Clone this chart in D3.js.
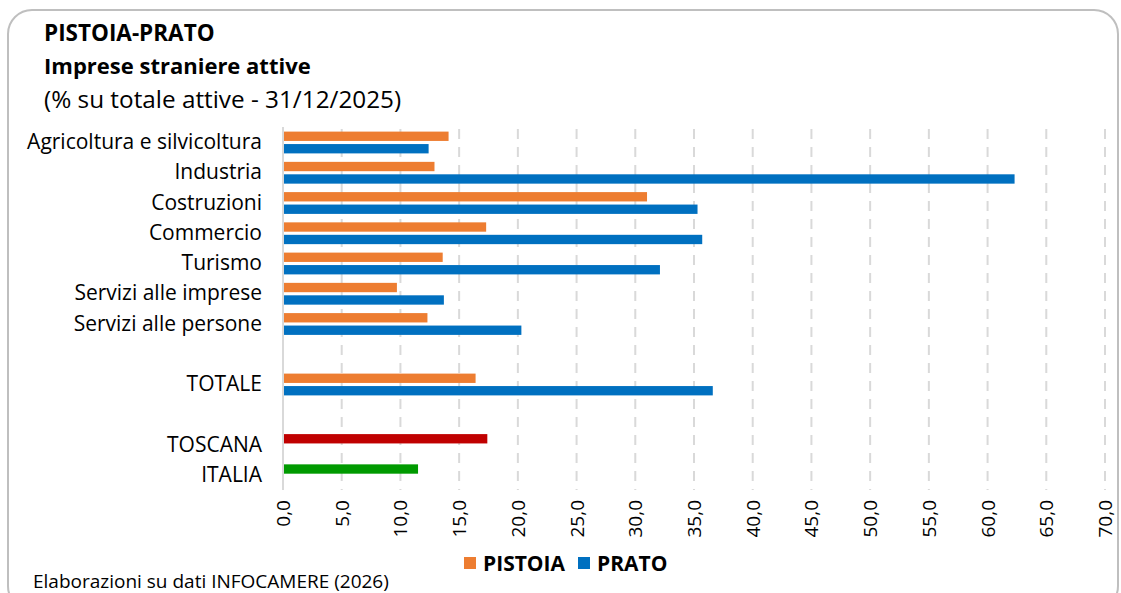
<!DOCTYPE html>
<html>
<head>
<meta charset="utf-8">
<script src="https://cdn.jsdelivr.net/npm/d3@7"></script>
<style>
  body { margin: 0; background: #fff; }
  svg text { font-family: "Open Sans", sans-serif; fill: #000; }
</style>
</head>
<body>
<svg id="chart" width="1121" height="593"></svg>
<script>
const categories = ["Agricoltura e silvicoltura", "Industria", "Costruzioni", "Commercio", "Turismo",
    "Servizi alle imprese", "Servizi alle persone", "", "TOTALE", "", "TOSCANA", "ITALIA"];
const seriesNames = ["PISTOIA", "PRATO"];
const pistoia = [14.1, 12.9, 31.0, 17.3, 13.6, 9.7, 12.3, null, 16.4, null, null, null];
const prato = [12.4, 62.3, 35.3, 35.7, 32.1, 13.7, 20.3, null, 36.6, null, null, null];
const refNames = ["TOSCANA", "ITALIA"];
const refValues = [17.4, 11.5];
const xTicks = d3.range(0, 70.1, 5);

const colors = {PISTOIA: "#ED7D31", PRATO: "#0070C0", TOSCANA: "#C00000", ITALIA: "#009A00"};
const fmt = d => d3.format(".1f")(d).replace(".", ",");

const svg = d3.select("#chart");

// frame
svg.append("rect")
    .attr("x", 8).attr("y", 10)
    .attr("width", 1110).attr("height", 600)
    .attr("rx", 24)
    .attr("fill", "none")
    .attr("stroke", "#BFBFBF")
    .attr("stroke-width", 2);

// titles
svg.append("text").attr("x", 44).attr("y", 41)
    .style("font-size", "22.5px").style("font-weight", "bold").text("PISTOIA-PRATO");
svg.append("text").attr("x", 44).attr("y", 74)
    .style("font-size", "22px").style("font-weight", "bold").text("Imprese straniere attive");
svg.append("text").attr("x", 44).attr("y", 108)
    .style("font-size", "24.3px").text("(% su totale attive - 31/12/2025)");

const x = d3.scaleLinear().domain([0, 70]).range([283, 1105]);
const y = d3.scaleBand().domain(d3.range(categories.length)).range([127, 490]);
const ySub = d3.scaleBand().domain(seriesNames).range([4.6, 26.4]).paddingInner(0.25);

// gridlines
svg.append("g")
    .selectAll("line")
    .data(xTicks.filter(d => d > 0))
    .enter()
    .append("line")
    .attr("x1", d => x(d)).attr("x2", d => x(d))
    .attr("y1", 129).attr("y2", 490)
    .attr("stroke", "#D9D9D9")
    .attr("stroke-width", 2)
    .attr("stroke-dasharray", "10,8");

// bars
const rows = categories.map((c, i) => ({i, c}));
seriesNames.forEach((s, k) => {
    const vals = k === 0 ? pistoia : prato;
    svg.append("g")
        .selectAll("rect")
        .data(rows.filter(r => vals[r.i] != null))
        .enter()
        .append("rect")
        .attr("x", x(0))
        .attr("y", r => y(r.i) + ySub(s))
        .attr("width", r => x(vals[r.i]) - x(0))
        .attr("height", ySub.bandwidth())
        .attr("fill", colors[s]);
});

svg.append("g")
    .selectAll("rect")
    .data(refNames)
    .enter()
    .append("rect")
    .attr("x", x(0))
    .attr("y", d => y(categories.indexOf(d)) + ySub("PISTOIA"))
    .attr("width", (d, i) => x(refValues[i]) - x(0))
    .attr("height", ySub.bandwidth())
    .attr("fill", d => colors[d]);

// axis line at zero
svg.append("line")
    .attr("x1", x(0)).attr("x2", x(0))
    .attr("y1", 127).attr("y2", 490)
    .attr("stroke", "#D9D9D9")
    .attr("stroke-width", 2);

// category labels
svg.append("g")
    .selectAll("text")
    .data(rows)
    .enter()
    .append("text")
    .attr("x", 262)
    .attr("y", r => y(r.i) + y.bandwidth() / 2 + 7)
    .attr("text-anchor", "end")
    .style("font-size", "21px")
    .text(r => r.c);

// x tick labels, rotated
svg.append("g")
    .selectAll("text")
    .data(xTicks)
    .enter()
    .append("text")
    .attr("transform", d => `translate(${x(d) + 7},500) rotate(-90)`)
    .attr("text-anchor", "end")
    .style("font-size", "19px")
    .text(fmt);

// legend
const legend = svg.append("g");
const legendX = [464, 578];
seriesNames.forEach((s, i) => {
    legend.append("rect")
        .attr("x", legendX[i]).attr("y", 557)
        .attr("width", 12).attr("height", 12)
        .attr("fill", colors[s]);
    legend.append("text")
        .attr("x", legendX[i] + 19).attr("y", 571)
        .style("font-size", "21px").style("font-weight", "bold")
        .text(s);
});

// source
svg.append("text").attr("x", 33).attr("y", 588)
    .style("font-size", "19px")
    .text("Elaborazioni su dati INFOCAMERE (2026)");
</script>
</body>
</html>
